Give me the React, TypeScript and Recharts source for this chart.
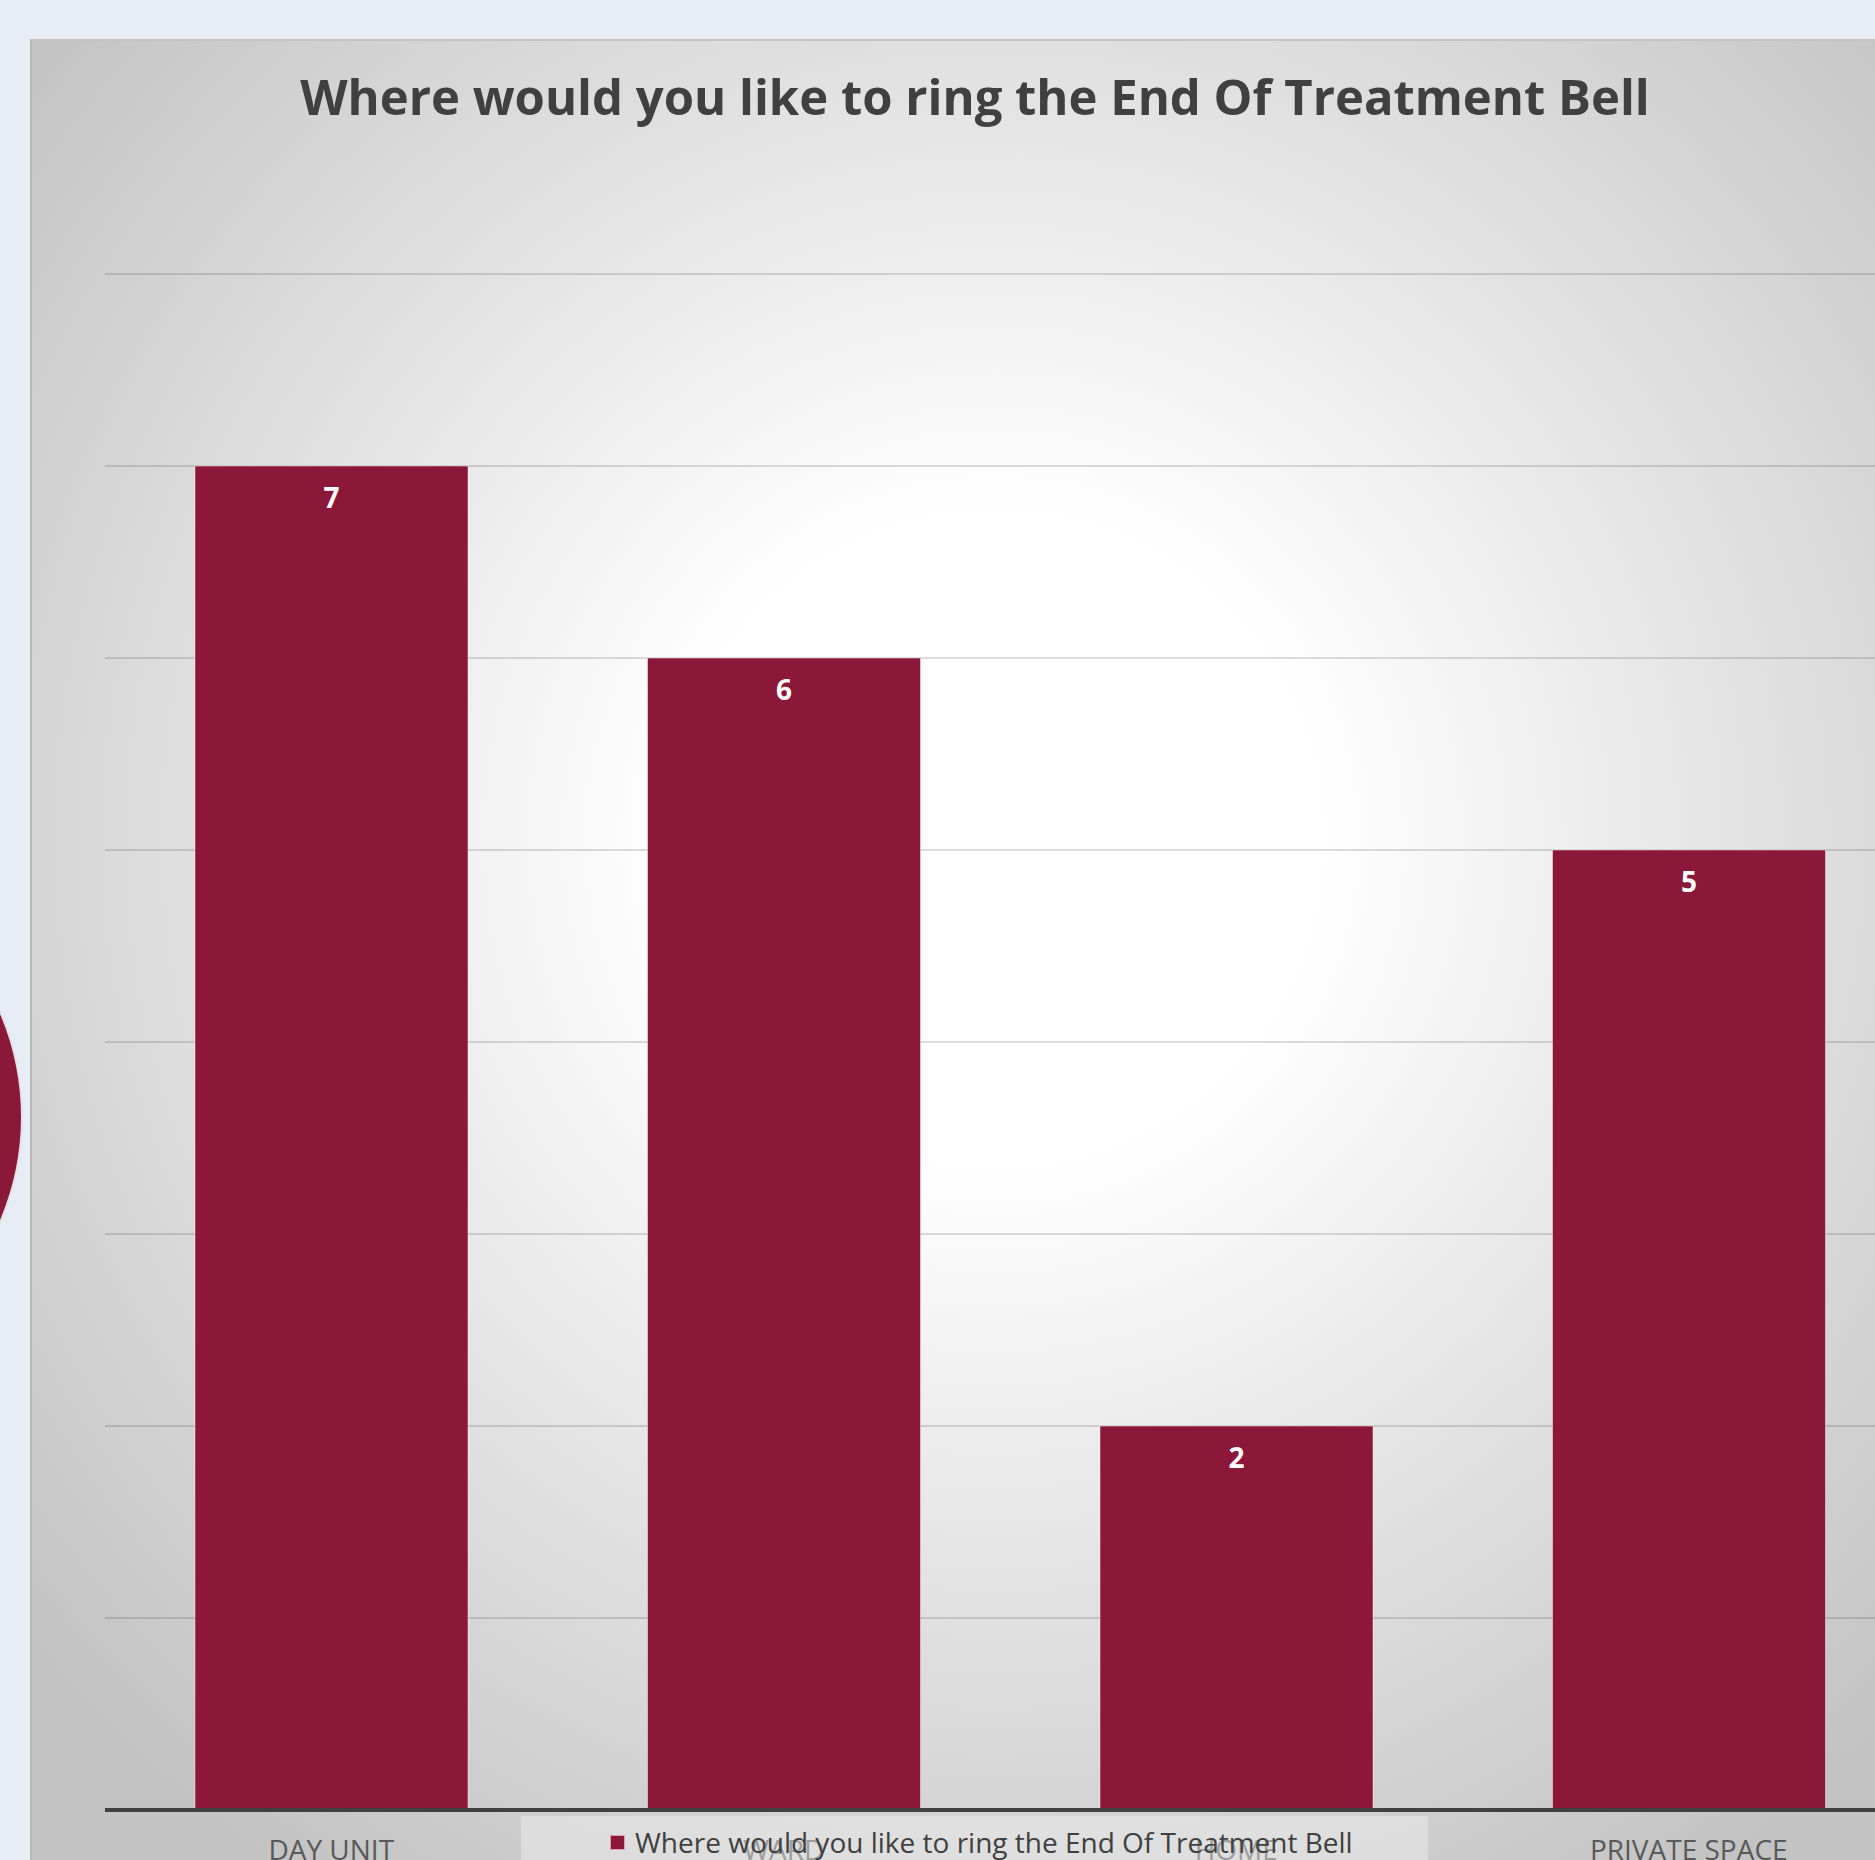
import { BarChart, Bar, XAxis, YAxis, CartesianGrid, LabelList } from 'recharts';

const categories = ['DAY UNIT', 'WARD', 'HOME', 'PRIVATE SPACE'];
const answers = [7, 6, 2, 5];
const yTicks = [0, 1, 2, 3, 4, 5, 6, 7, 8];
const seriesName = 'Where would you like to ring the End Of Treatment Bell';

const data = categories.map((place, i) => ({ place, count: answers[i] }));

const BAR = '#8b1739';
const FONT = '"Open Sans", "Noto Sans", sans-serif';

export default function App() {
  return (
    <div style={{ position: 'fixed', left: 0, top: 0, width: 1875, height: 1860, overflow: 'hidden', background: '#e8ecf4' }}>
      {/* decorative disc peeking from the left edge */}
      <div style={{ position: 'absolute', left: -505, top: 854, width: 526, height: 526, borderRadius: '50%', background: BAR, boxShadow: '0 0 0 2px #e4e4e8' }} />
      <div
        style={{
          position: 'absolute',
          left: 30,
          top: 39,
          width: 1926,
          height: 1900,
          borderLeft: '2px solid #b8b8b8',
          borderTop: '2px solid #c4c4c8',
          background: 'radial-gradient(circle at 963px 798px, #ffffff 0px, #ffffff 320px, #e2e2e2 760px, #c3c3c3 1250px)',
        }}
      >
        <div style={{ position: 'absolute', left: 0, width: 1886, top: 22, textAlign: 'center', fontFamily: FONT, fontWeight: 700, fontSize: 49, color: '#404040' }}>
          {seriesName}
        </div>
        <BarChart
          width={1926}
          height={1880}
          data={data}
          margin={{ top: 235, right: 41, left: 75, bottom: 49 }}
          barCategoryGap={90}
          style={{ position: 'absolute', left: -2, top: -2 }}
        >
          <CartesianGrid vertical={false} stroke="#000" strokeOpacity={0.18} strokeWidth={1.5} />
          <YAxis hide domain={[0, 8]} ticks={yTicks} />
          <XAxis
            dataKey="place"
            height={60}
            tickLine={false}
            tickSize={0}
            tickMargin={30}
            axisLine={{ stroke: '#404040', strokeWidth: 4 }}
            tick={{ fill: '#595959', fontSize: 28, fontFamily: FONT }}
          />
          <Bar dataKey="count" name={seriesName} fill={BAR} stroke="#ffffff" strokeOpacity={0.45} strokeWidth={1} isAnimationActive={false}>
            <LabelList dataKey="count" position="insideTop" offset={22} fill="#ffffff" fontSize={28} fontWeight={700} fontFamily={FONT} />
          </Bar>
        </BarChart>
        {/* legend box, drawn over the middle category labels */}
        <div
          style={{
            position: 'absolute',
            left: 489,
            top: 1775,
            width: 907,
            height: 100,
            background: 'rgba(240,240,240,0.45)',
            display: 'flex',
            alignItems: 'flex-start',
            paddingLeft: 89,
            paddingTop: 9,
            boxSizing: 'border-box',
          }}
        >
          <span style={{ width: 15, height: 15, background: BAR, border: '1px solid #d8a0b0', boxSizing: 'border-box', marginRight: 10, marginTop: 10 }} />
          <span style={{ fontFamily: FONT, fontSize: 28, color: '#404040', lineHeight: '34px' }}>{seriesName}</span>
        </div>
      </div>
    </div>
  );
}
